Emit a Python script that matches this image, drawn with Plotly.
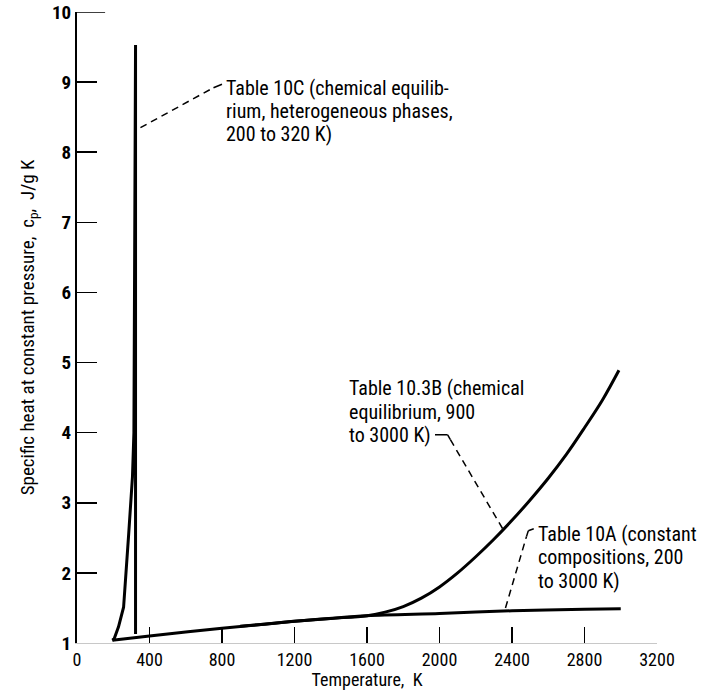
import plotly.graph_objects as go

# Table 10A (constant compositions, 200 to 3000 K)
t_10a = [195, 400, 800, 1200, 1600, 2000, 2400, 2800, 3000]
cp_10a = [1.04, 1.10, 1.21, 1.31, 1.39, 1.42, 1.46, 1.48, 1.49]

# Table 10.3B (chemical equilibrium, 900 to 3000 K)
t_103b = [900, 1000, 1200, 1400, 1600, 1700, 1800, 1900, 2000, 2100, 2200,
          2300, 2400, 2500, 2600, 2700, 2800, 2900, 2990]
cp_103b = [1.24, 1.26, 1.31, 1.35, 1.39, 1.44, 1.52, 1.64, 1.80, 2.00, 2.23,
           2.48, 2.75, 3.04, 3.35, 3.69, 4.07, 4.47, 4.89]

# Table 10C (chemical equilibrium, heterogeneous phases, 200 to 320 K)
t_10c = [195, 205, 229, 257, 285, 306, 314, 320, 323, 323]
cp_10c = [1.04, 1.06, 1.23, 1.51, 2.55, 3.37, 4.0, 9.53, 9.53, 1.13]

x_ticks = [0, 400, 800, 1200, 1600, 2000, 2400, 2800, 3200]
y_ticks = [1, 2, 3, 4, 5, 6, 7, 8, 9, 10]

# annotation lines
label_10c = ["Table 10C (chemical equilib-", "rium, heterogeneous phases,", "200 to 320 K)"]
label_103b = ["Table 10.3B (chemical", "equilibrium, 900", "to 3000 K)"]
label_10a = ["Table 10A (constant", "compositions, 200", "to 3000 K)"]

FONT = "Liberation Sans Narrow, Arial Narrow, Roboto Condensed, DejaVu Sans Condensed, sans-serif"

fig = go.Figure()
fig.add_trace(go.Scatter(x=t_10a, y=cp_10a, mode="lines",
                         line=dict(color="black", width=3, shape="spline", smoothing=0.8),
                         showlegend=False, hoverinfo="skip"))
fig.add_trace(go.Scatter(x=t_103b, y=cp_103b, mode="lines",
                         line=dict(color="black", width=3, shape="spline", smoothing=1.0),
                         showlegend=False, hoverinfo="skip"))
fig.add_trace(go.Scatter(x=t_10c, y=cp_10c, mode="lines",
                         line=dict(color="black", width=3),
                         showlegend=False, hoverinfo="skip"))

dash = dict(color="black", width=1.5, dash="7px,5px")
solid = dict(color="black", width=1.5)
shapes = [
    # 10C leader
    dict(type="line", xref="x", yref="y", x0=350, y0=8.35, x1=753, y1=8.92, line=dash),
    dict(type="line", xref="x", yref="y", x0=753, y0=8.92, x1=800, y1=8.97, line=solid),
    # 10.3B leader
    dict(type="line", xref="x", yref="y", x0=1975, y0=3.97, x1=2045, y1=3.97, line=solid),
    dict(type="line", xref="x", yref="y", x0=2045, y0=3.97, x1=2060, y1=3.90, line=solid),
    dict(type="line", xref="x", yref="y", x0=2060, y0=3.90, x1=2353, y1=2.61, line=dash),
    # 10A leader
    dict(type="line", xref="x", yref="y", x0=2364, y0=1.50, x1=2480, y1=2.52, line=dash),
    dict(type="line", xref="x", yref="y", x0=2480, y0=2.52, x1=2490, y1=2.60, line=solid),
    dict(type="line", xref="x", yref="y", x0=2490, y0=2.60, x1=2520, y1=2.63, line=solid),
    # longer top tick at 10
    dict(type="line", xref="x", yref="y", x0=0, y0=10, x1=155, y1=10, line=dict(color="black", width=1.5)),
]

annotations = []
for lines, x0, ys in [(label_10c, 810, [8.917, 8.589, 8.261]),
                      (label_103b, 1490, [4.638, 4.295, 3.967]),
                      (label_10a, 2530, [2.555, 2.227, 1.884])]:
    for txt, yv in zip(lines, ys):
        annotations.append(dict(xref="x", yref="y", x=x0, y=yv, text=txt, showarrow=False,
                                xanchor="left", yanchor="middle", align="left",
                                font=dict(family=FONT, size=20, color="black")))

fig.update_layout(
    width=701, height=690,
    margin=dict(l=77, r=44, t=12, b=47),
    paper_bgcolor="white", plot_bgcolor="white",
    shapes=shapes, annotations=annotations,
    font=dict(family=FONT, color="black"),
    xaxis=dict(range=[0, 3200], tickvals=x_ticks, ticktext=[str(v) for v in x_ticks],
               ticks="inside", ticklen=16, tickwidth=1.5, tickcolor="black",
               showline=True, linecolor="#c8c8c8", linewidth=1, mirror=False,
               showgrid=False, zeroline=False, automargin=False,
               tickfont=dict(family=FONT, size=18, color="black"),
               title=dict(text="Temperature,  K", font=dict(family=FONT, size=18), standoff=4)),
    yaxis=dict(range=[1, 10], tickvals=y_ticks, ticktext=[str(v) for v in y_ticks],
               ticks="inside", ticklen=20, tickwidth=1.5, tickcolor="black",
               showline=True, linecolor="black", linewidth=2,
               showgrid=False, zeroline=False, automargin=False,
               tickfont=dict(family=FONT, size=19, color="black", weight="bold"),
               title=dict(text="Specific heat at constant pressure,  c<sub>p</sub>,  J/g K",
                          font=dict(family=FONT, size=19), standoff=12)),
)

fig.write_html("out.html",
               config={"displayModeBar": False, "staticPlot": True},
               post_script="document.body.style.margin='0';document.body.style.padding='0';"
                           "document.documentElement.style.overflow='hidden';")
